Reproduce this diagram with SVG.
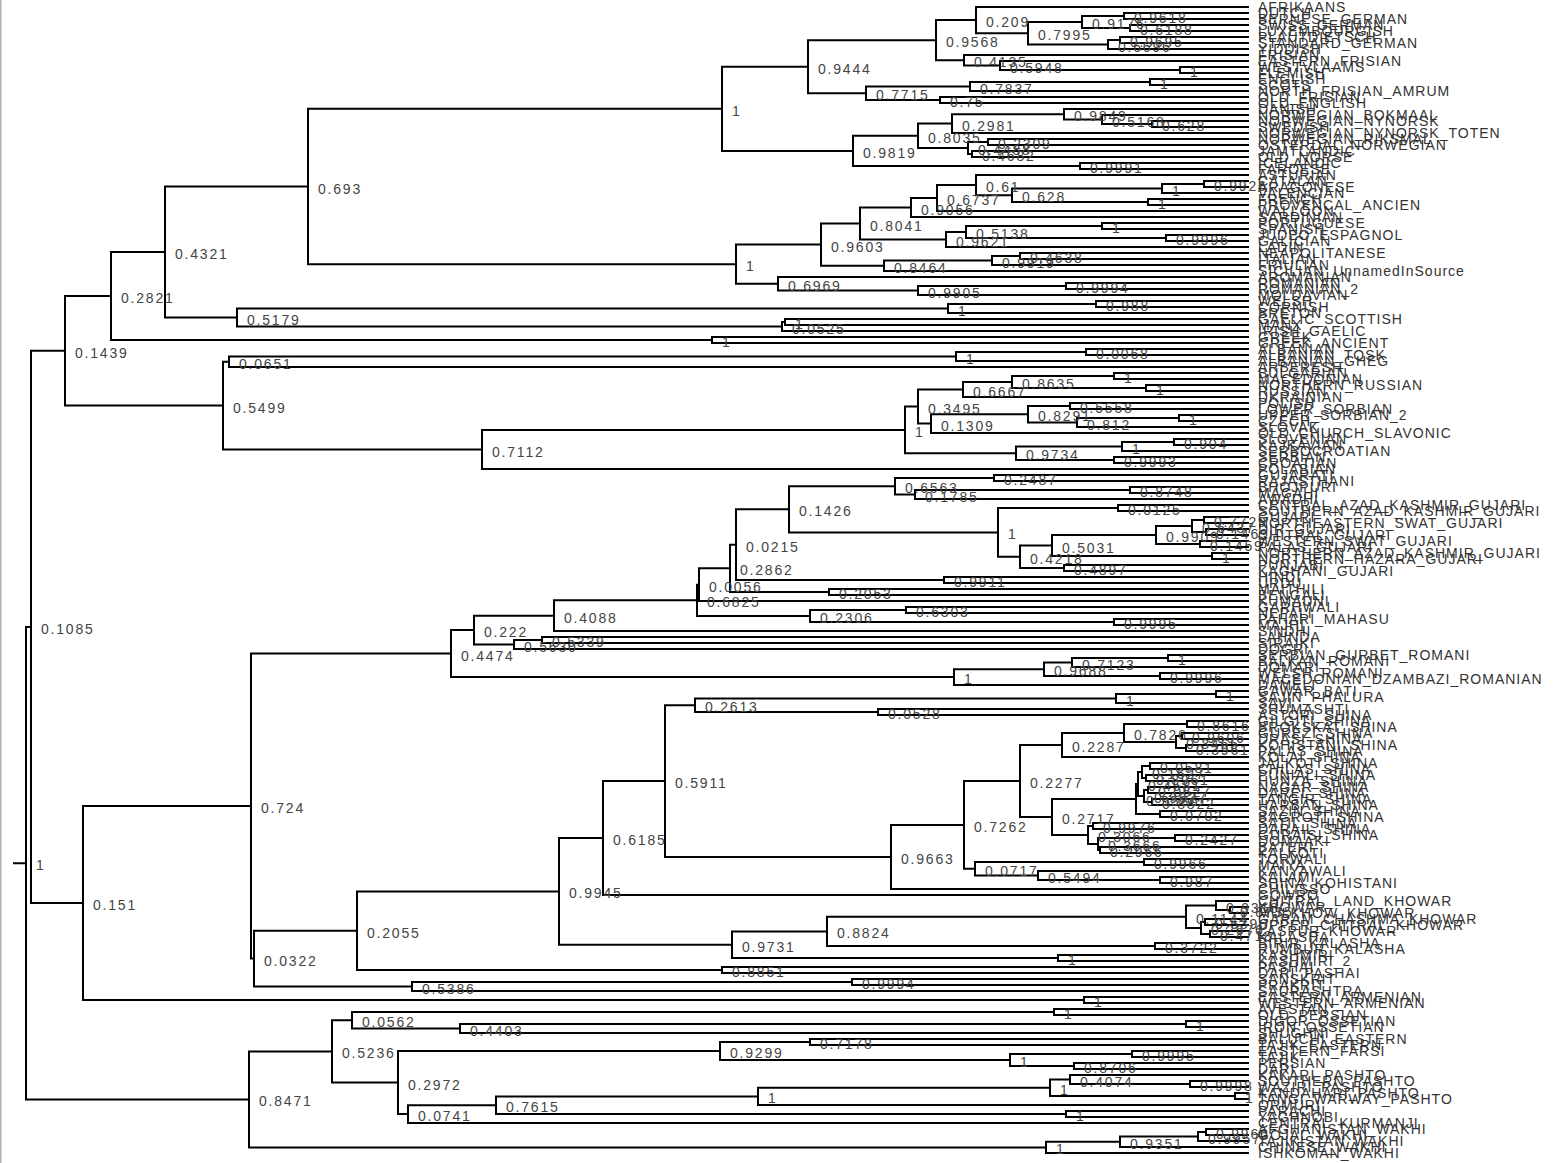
<svg xmlns="http://www.w3.org/2000/svg" width="1566" height="1163" viewBox="0 0 1566 1163">
<style>
.c{fill:none;stroke:#000;stroke-width:2}
.t{font-family:"Liberation Sans",Arial,sans-serif;font-size:14px;letter-spacing:1px;fill:#333}
.n{font-family:"Liberation Sans",Arial,sans-serif;font-size:14px;letter-spacing:1.8px;fill:#444}
</style>
<rect width="1566" height="1163" fill="#fff"/>
<rect x="0" y="0" width="1.5" height="1163" fill="#b0b0b0"/>
<g id="connectors" class="c">
<path d="M13 863.2H26M31 626.9H26V1099.4H249M65 350.8H31V903H83"/>
<path d="M808 66.7H722V150.9H853M936 40.2H808V93.25H866M976 20.1H936V60.25H964M1249 7H976V33.25H1028M1082 22H1028V44.5H1108M1124 16H1082V28H1130M1249 13H1124V19H1249M1249 25H1130V31H1249M1120 40H1108V49H1249M1249 37H1120V43H1249M1249 55H964V65.5H1000M1249 61H1000V70H1180M1249 67H1180V73H1249M970 86.5H866V100H940M1150 82H970V91H1249M1249 79H1150V85H1249M1249 97H940V103H1249M918 135.8H853V166H1080M952 123.6H918V148H968M1064 114.25H952V133H1249M1249 109H1064V119.5H1102M1249 115H1102V124H1152M1249 121H1152V127H1249M988 142H968V154H972M1249 139H988V145H1249M1249 151H972V157H1249M1249 163H1080V169H1249"/>
<path d="M821 244.6H736V283.75H778M722 108.8H308V264.2H736M860 223.5H821V265.75H884M911 207.5H860V239.5H946M937 198.1H911V217H1249M976 185.1H937V211H1249M1249 175H976V195.25H1012M1162 188.5H1012V202H1148M1204 184H1162V193H1249M1249 181H1204V187H1249M1249 199H1148V205H1249M966 232H946V247H1249M1102 226H966V238H1166M1249 223H1102V229H1249M1249 235H1166V241H1249M992 260.5H884V271H1249M1020 256H992V265H1249M1249 253H1020V259H1249M1249 277H778V290.5H918M1066 286H918V295H1249M1249 283H1066V289H1249"/>
<path d="M308 186.5H165V317.5H237M165 252H111V340H712M948 308.5H237V326.5H782M1096 304H948V313H1249M1249 301H1096V307H1249M785 322H782V331H1249M1249 319H785V325H1249M1249 337H712V343H1249"/>
<path d="M111 296H65V405.6H223M229 361.75H223V449.5H482M956 356.5H229V367H1249M1086 352H956V361H1249M1249 349H1086V355H1249M905 429.9H482V469H1249M918 406.6H905V453.25H1016M963 389.5H918V423.6H931M1012 382H963V397H1249M1114 376H1012V388H1146M1249 373H1114V379H1249M1249 385H1146V391H1249M1028 414.25H931V433H1249M1070 406H1028V422.5H1077M1249 403H1070V409H1249M1179 418H1077V427H1249M1249 415H1179V421H1249M1122 446.5H1016V460H1114M1174 442H1122V451H1249M1249 439H1174V445H1249M1249 457H1114V463H1249"/>
<path d="M251 806.1H83V1000H1084M1249 997H1084V1003H1249M451 653.6H251V958.6H254M474 630.1H451V677.1H954M554 615.7H474V644.5H514M697 600.3H554V631H1249M699 584.7H697V616H810M730 568.3H699V601H1249M736 544.7H730V592H829M789 509.3H736V580H944M895 486.25H789V532.4H998M994 478H895V494.5H915M1249 475H994V481H1249M1130 490H915V499H1249M1249 487H1130V493H1249M1118 508H998V556.75H1020M1249 505H1118V511H1249M1052 545.5H1020V568H1064M1156 535H1052V556H1212M1192 526H1156V544H1200M1204 520H1192V532H1206M1249 517H1204V523H1249M1249 529H1206V535H1249M1249 541H1200V547H1249M1249 553H1212V559H1249M1249 565H1064V571H1249M1249 577H944V583H1249M1249 589H829V595H1249M906 610H810V622H1114M1249 607H906V613H1249M1249 619H1114V625H1249M542 640H514V649H1249M1249 637H542V643H1249M1044 669.25H954V685H1249M1072 662.5H1044V676H1160M1168 658H1072V667H1249M1249 655H1168V661H1249M1249 673H1160V679H1249"/>
<path d="M357 930.7H254V986.5H412M559 891.4H357V970H722M603 838H559V944.7H732M665 781.1H603V895H1249M695 705.25H665V857H891M1116 698.5H695V712H878M1216 694H1116V703H1249M1249 691H1216V697H1249M1249 709H878V715H1249M964 824.9H891V889H1249M1020 781H964V868.75H975M1062 745H1020V817H1052M1124 733H1062V757H1249M1187 724H1124V742H1176M1249 721H1187V727H1249M1182 736H1176V748H1186M1249 733H1182V739H1249M1249 745H1186V751H1249M1136 799H1052V835H1088M1138 784H1136V814H1160M1142 772H1138V796H1144M1150 766H1142V778H1146M1249 763H1150V769H1249M1249 775H1146V781H1249M1148 790H1144V802H1152M1249 787H1148V793H1249M1249 799H1152V805H1249M1249 811H1160V817H1249M1093 826H1088V844H1098M1249 823H1093V829H1249M1175 838H1098V850H1100M1249 835H1175V841H1249M1249 847H1100V853H1249M1144 862H975V875.5H1038M1249 859H1144V865H1249M1249 871H1038V880H1160M1249 877H1160V883H1249M827 931.4H732V958H1058M1186 916.75H827V946H1155M1216 905.5H1186V928H1201M1249 901H1216V910H1230M1249 907H1230V913H1249M1205 922H1201V934H1210M1249 919H1205V925H1249M1249 931H1210V937H1249M1249 943H1155V949H1249M1249 955H1058V961H1249M1249 967H722V973H1249M852 982H412V991H1249M1249 979H852V985H1249"/>
<path d="M332 1051.4H249V1147.4H1046M352 1020.25H332V1082.6H398M1054 1012H352V1028.5H460M1249 1009H1054V1015H1249M1186 1024H460V1033H1249M1249 1021H1186V1027H1249M720 1051H398V1114.1H408M810 1042H720V1060H1010M1249 1039H810V1045H1249M1132 1054H1010V1066H1074M1249 1051H1132V1057H1249M1249 1063H1074V1069H1249M496 1105.2H408V1123H1249M758 1096.4H496V1114H1066M1050 1087.75H758V1105H1249M1070 1079.5H1050V1096H1235M1249 1075H1070V1084H1190M1249 1081H1190V1087H1249M1249 1093H1235V1099H1249M1249 1111H1066V1117H1249M1120 1141.75H1046V1153H1249M1198 1136.5H1120V1147H1249M1206 1132H1198V1141H1249M1249 1129H1206V1135H1249"/>
</g>
<g id="internal-nodes" class="n">
<g id="n1"><text x="36" y="870">1</text></g>
<g id="n2"><text x="41" y="634">0.1085</text></g>
<g id="n3"><text x="75" y="358">0.1439</text></g>
<g id="n4"><text x="121" y="303">0.2821</text></g>
<g id="n5"><text x="175" y="259">0.4321</text></g>
<g id="n6"><text x="318" y="193.5">0.693</text></g>
<g id="n7"><text x="732" y="116">1</text></g>
<g id="n8"><text x="818" y="74">0.9444</text></g>
<g id="n9"><text x="946" y="47">0.9568</text></g>
<g id="n10"><text x="986" y="27">0.209</text></g>
<g id="n11"><text x="1038" y="40">0.7995</text></g>
<g id="n12"><text x="1092" y="29">0.9176</text></g>
<g id="n13"><text x="1134" y="23">0.9618</text></g>
<g id="n14"><text x="1140" y="35">0.6188</text></g>
<g id="n15"><text x="1118" y="51.5">0.6696</text></g>
<g id="n16"><text x="1130" y="47">0.9695</text></g>
<g id="n17"><text x="974" y="67">0.4135</text></g>
<g id="n18"><text x="1010" y="72.5">0.5948</text></g>
<g id="n19"><text x="1190" y="77">1</text></g>
<g id="n20"><text x="876" y="100">0.7715</text></g>
<g id="n21"><text x="980" y="93.5">0.7837</text></g>
<g id="n22"><text x="1160" y="89">1</text></g>
<g id="n23"><text x="950" y="107">0.75</text></g>
<g id="n24"><text x="863" y="158">0.9819</text></g>
<g id="n25"><text x="928" y="143">0.8035</text></g>
<g id="n26"><text x="962" y="130.6">0.2981</text></g>
<g id="n27"><text x="1074" y="121">0.9849</text></g>
<g id="n28"><text x="1112" y="126.5">0.5168</text></g>
<g id="n29"><text x="1162" y="131">0.628</text></g>
<g id="n30"><text x="978" y="155">0.4488</text></g>
<g id="n31"><text x="998" y="149">0.2309</text></g>
<g id="n32"><text x="982" y="161">0.4682</text></g>
<g id="n33"><text x="1090" y="173">0.9991</text></g>
<g id="n34"><text x="746" y="271">1</text></g>
<g id="n35"><text x="831" y="251.6">0.9603</text></g>
<g id="n36"><text x="870" y="230.5">0.8041</text></g>
<g id="n37"><text x="921" y="214.5">0.9056</text></g>
<g id="n38"><text x="947" y="205">0.6737</text></g>
<g id="n39"><text x="986" y="192">0.61</text></g>
<g id="n40"><text x="1022" y="202">0.628</text></g>
<g id="n41"><text x="1172" y="195.5">1</text></g>
<g id="n42"><text x="1214" y="191">0.9926</text></g>
<g id="n43"><text x="1158" y="209">1</text></g>
<g id="n44"><text x="956" y="246.5">0.9621</text></g>
<g id="n45"><text x="976" y="239">0.5138</text></g>
<g id="n46"><text x="1112" y="233">1</text></g>
<g id="n47"><text x="1176" y="245">0.9996</text></g>
<g id="n48"><text x="894" y="272.75">0.8464</text></g>
<g id="n49"><text x="1002" y="267.5">0.9919</text></g>
<g id="n50"><text x="1030" y="263">0.4638</text></g>
<g id="n51"><text x="788" y="290.75">0.6969</text></g>
<g id="n52"><text x="928" y="297.5">0.9905</text></g>
<g id="n53"><text x="1076" y="293">0.9994</text></g>
<g id="n54"><text x="247" y="324.5">0.5179</text></g>
<g id="n55"><text x="958" y="315.5">1</text></g>
<g id="n56"><text x="1106" y="311">0.988</text></g>
<g id="n57"><text x="792" y="333.5">0.0525</text></g>
<g id="n58"><text x="795" y="329">1</text></g>
<g id="n59"><text x="722" y="347">1</text></g>
<g id="n60"><text x="233" y="412.6">0.5499</text></g>
<g id="n61"><text x="239" y="368.75">0.0651</text></g>
<g id="n62"><text x="966" y="363.5">1</text></g>
<g id="n63"><text x="1096" y="359">0.0068</text></g>
<g id="n64"><text x="492" y="456.5">0.7112</text></g>
<g id="n65"><text x="915" y="436.9">1</text></g>
<g id="n66"><text x="928" y="413.6">0.3495</text></g>
<g id="n67"><text x="973" y="396.5">0.6667</text></g>
<g id="n68"><text x="1022" y="389">0.8635</text></g>
<g id="n69"><text x="1124" y="383">1</text></g>
<g id="n70"><text x="1156" y="395">1</text></g>
<g id="n71"><text x="941" y="430.6">0.1309</text></g>
<g id="n72"><text x="1038" y="421.25">0.8291</text></g>
<g id="n73"><text x="1080" y="413">0.5558</text></g>
<g id="n74"><text x="1087" y="429.5">0.812</text></g>
<g id="n75"><text x="1189" y="425">1</text></g>
<g id="n76"><text x="1026" y="460.25">0.9734</text></g>
<g id="n77"><text x="1132" y="453.5">1</text></g>
<g id="n78"><text x="1184" y="449">0.904</text></g>
<g id="n79"><text x="1124" y="467">0.9993</text></g>
<g id="n80"><text x="93" y="910">0.151</text></g>
<g id="n81"><text x="1094" y="1007">1</text></g>
<g id="n82"><text x="261" y="813">0.724</text></g>
<g id="n83"><text x="461" y="660.6">0.4474</text></g>
<g id="n84"><text x="484" y="637">0.222</text></g>
<g id="n85"><text x="564" y="622.7">0.4088</text></g>
<g id="n86"><text x="707" y="607.3">0.6825</text></g>
<g id="n87"><text x="709" y="591.7">0.0056</text></g>
<g id="n88"><text x="740" y="575.3">0.2862</text></g>
<g id="n89"><text x="746" y="551.7">0.0215</text></g>
<g id="n90"><text x="799" y="516.3">0.1426</text></g>
<g id="n91"><text x="905" y="493.25">0.6563</text></g>
<g id="n92"><text x="1004" y="485">0.2487</text></g>
<g id="n93"><text x="925" y="501.5">0.1785</text></g>
<g id="n94"><text x="1140" y="497">0.8748</text></g>
<g id="n95"><text x="1008" y="539.4">1</text></g>
<g id="n96"><text x="1128" y="515">0.0125</text></g>
<g id="n97"><text x="1030" y="563.75">0.4218</text></g>
<g id="n98"><text x="1062" y="552.5">0.5031</text></g>
<g id="n99"><text x="1166" y="542">0.9909</text></g>
<g id="n100"><text x="1202" y="533">0.6437</text></g>
<g id="n101"><text x="1214" y="527">0.7729</text></g>
<g id="n102"><text x="1216" y="539">0.1469</text></g>
<g id="n103"><text x="1210" y="551">0.1459</text></g>
<g id="n104"><text x="1222" y="563">1</text></g>
<g id="n105"><text x="1074" y="575">0.4897</text></g>
<g id="n106"><text x="954" y="587">0.9911</text></g>
<g id="n107"><text x="839" y="599">0.2053</text></g>
<g id="n108"><text x="820" y="623">0.2306</text></g>
<g id="n109"><text x="916" y="617">0.6303</text></g>
<g id="n110"><text x="1124" y="629">0.9995</text></g>
<g id="n111"><text x="524" y="651.5">0.5630</text></g>
<g id="n112"><text x="552" y="647">0.5339</text></g>
<g id="n113"><text x="964" y="684.1">1</text></g>
<g id="n114"><text x="1054" y="676.25">0.9688</text></g>
<g id="n115"><text x="1082" y="669.5">0.7123</text></g>
<g id="n116"><text x="1178" y="665">1</text></g>
<g id="n117"><text x="1170" y="683">0.9996</text></g>
<g id="n118"><text x="264" y="965.6">0.0322</text></g>
<g id="n119"><text x="367" y="937.7">0.2055</text></g>
<g id="n120"><text x="569" y="898.4">0.9945</text></g>
<g id="n121"><text x="613" y="845">0.6185</text></g>
<g id="n122"><text x="675" y="788.1">0.5911</text></g>
<g id="n123"><text x="705" y="712.25">0.2613</text></g>
<g id="n124"><text x="1126" y="705.5">1</text></g>
<g id="n125"><text x="1226" y="701">1</text></g>
<g id="n126"><text x="888" y="719">0.0528</text></g>
<g id="n127"><text x="901" y="864">0.9663</text></g>
<g id="n128"><text x="974" y="831.9">0.7262</text></g>
<g id="n129"><text x="1030" y="788">0.2277</text></g>
<g id="n130"><text x="1072" y="752">0.2287</text></g>
<g id="n131"><text x="1134" y="740">0.7826</text></g>
<g id="n132"><text x="1197" y="731">0.8616</text></g>
<g id="n133"><text x="1186" y="749">0.3465</text></g>
<g id="n134"><text x="1192" y="743">0.9606</text></g>
<g id="n135"><text x="1196" y="755">0.3961</text></g>
<g id="n136"><text x="1062" y="824">0.2717</text></g>
<g id="n137"><text x="1146" y="806">0.9586</text></g>
<g id="n138"><text x="1148" y="791">0.4581</text></g>
<g id="n139"><text x="1152" y="779">0.1627</text></g>
<g id="n140"><text x="1160" y="773">0.0581</text></g>
<g id="n141"><text x="1156" y="785">0.8961</text></g>
<g id="n142"><text x="1154" y="803">0.9627</text></g>
<g id="n143"><text x="1158" y="797">0.0627</text></g>
<g id="n144"><text x="1162" y="809">0.8822</text></g>
<g id="n145"><text x="1170" y="821">0.0702</text></g>
<g id="n146"><text x="1098" y="842">0.3066</text></g>
<g id="n147"><text x="1103" y="833">0.9976</text></g>
<g id="n148"><text x="1108" y="851">0.3666</text></g>
<g id="n149"><text x="1185" y="845">0.2427</text></g>
<g id="n150"><text x="1110" y="857">0.2966</text></g>
<g id="n151"><text x="985" y="875.75">0.0717</text></g>
<g id="n152"><text x="1154" y="869">0.9966</text></g>
<g id="n153"><text x="1048" y="882.5">0.5494</text></g>
<g id="n154"><text x="1170" y="887">0.987</text></g>
<g id="n155"><text x="742" y="951.7">0.9731</text></g>
<g id="n156"><text x="837" y="938.4">0.8824</text></g>
<g id="n157"><text x="1196" y="923.75">0.1144</text></g>
<g id="n158"><text x="1226" y="912.5">0.9318</text></g>
<g id="n159"><text x="1240" y="917">0.8735</text></g>
<g id="n160"><text x="1211" y="935">0.2676</text></g>
<g id="n161"><text x="1215" y="929">0.5396</text></g>
<g id="n162"><text x="1220" y="941">0.4718</text></g>
<g id="n163"><text x="1165" y="953">0.3722</text></g>
<g id="n164"><text x="1068" y="965">1</text></g>
<g id="n165"><text x="732" y="977">0.8851</text></g>
<g id="n166"><text x="422" y="993.5">0.5386</text></g>
<g id="n167"><text x="862" y="989">0.9994</text></g>
<g id="n168"><text x="259" y="1106.4">0.8471</text></g>
<g id="n169"><text x="342" y="1058.4">0.5236</text></g>
<g id="n170"><text x="362" y="1027.25">0.0562</text></g>
<g id="n171"><text x="1064" y="1019">1</text></g>
<g id="n172"><text x="470" y="1035.5">0.4403</text></g>
<g id="n173"><text x="1196" y="1031">1</text></g>
<g id="n174"><text x="408" y="1089.6">0.2972</text></g>
<g id="n175"><text x="730" y="1058">0.9299</text></g>
<g id="n176"><text x="820" y="1049">0.7178</text></g>
<g id="n177"><text x="1020" y="1067">1</text></g>
<g id="n178"><text x="1142" y="1061">0.9995</text></g>
<g id="n179"><text x="1084" y="1073">0.8706</text></g>
<g id="n180"><text x="418" y="1121.1">0.0741</text></g>
<g id="n181"><text x="506" y="1112.2">0.7615</text></g>
<g id="n182"><text x="768" y="1103.4">1</text></g>
<g id="n183"><text x="1060" y="1094.75">1</text></g>
<g id="n184"><text x="1080" y="1086.5">0.4074</text></g>
<g id="n185"><text x="1200" y="1091">0.9998</text></g>
<g id="n186"><text x="1245" y="1103">1</text></g>
<g id="n187"><text x="1076" y="1121">1</text></g>
<g id="n188"><text x="1056" y="1154.4">1</text></g>
<g id="n189"><text x="1130" y="1148.75">0.9351</text></g>
<g id="n190"><text x="1208" y="1143.5">0.9957</text></g>
<g id="n191"><text x="1216" y="1139">0.9966</text></g>
</g>
<g id="tips" class="t">
<g id="tip0"><text x="1258" y="12">AFRIKAANS</text></g>
<g id="tip1"><text x="1258" y="18">DUTCH</text></g>
<g id="tip2"><text x="1258" y="24">BERNESE_GERMAN</text></g>
<g id="tip3"><text x="1258" y="30">SWISS_GERMAN</text></g>
<g id="tip4"><text x="1258" y="36">LUXEMBOURGISH</text></g>
<g id="tip5"><text x="1258" y="42">PLAUTDIETSCH</text></g>
<g id="tip6"><text x="1258" y="48">STANDARD_GERMAN</text></g>
<g id="tip7"><text x="1258" y="54">YIDDISH</text></g>
<g id="tip8"><text x="1258" y="60">FRISIAN</text></g>
<g id="tip9"><text x="1258" y="66">EASTERN_FRISIAN</text></g>
<g id="tip10"><text x="1258" y="72">WESTVLAAMS</text></g>
<g id="tip11"><text x="1258" y="78">FLEMISH</text></g>
<g id="tip12"><text x="1258" y="84">ENGLISH</text></g>
<g id="tip13"><text x="1258" y="90">SCOTS</text></g>
<g id="tip14"><text x="1258" y="96">NORTH_FRISIAN_AMRUM</text></g>
<g id="tip15"><text x="1258" y="102">OLD_FRISIAN</text></g>
<g id="tip16"><text x="1258" y="108">OLD_ENGLISH</text></g>
<g id="tip17"><text x="1258" y="114">DANISH</text></g>
<g id="tip18"><text x="1258" y="120">NORWEGIAN_BOKMAAL</text></g>
<g id="tip19"><text x="1258" y="126">NORWEGIAN_NYNORSK</text></g>
<g id="tip20"><text x="1258" y="132">SWEDISH</text></g>
<g id="tip21"><text x="1258" y="138">NORWEGIAN_NYNORSK_TOTEN</text></g>
<g id="tip22"><text x="1258" y="144">NORWEGIAN_RIKSMAL</text></g>
<g id="tip23"><text x="1258" y="150">OSTERDAL_NORWEGIAN</text></g>
<g id="tip24"><text x="1258" y="156">JAMTLANDIC</text></g>
<g id="tip25"><text x="1258" y="162">OLD_NORSE</text></g>
<g id="tip26"><text x="1258" y="168">ICELANDIC</text></g>
<g id="tip27"><text x="1258" y="174">FAROESE</text></g>
<g id="tip28"><text x="1258" y="180">ASTURIAN</text></g>
<g id="tip29"><text x="1258" y="186">CATALAN</text></g>
<g id="tip30"><text x="1258" y="192">ARAGONESE</text></g>
<g id="tip31"><text x="1258" y="198">VALENCIAN</text></g>
<g id="tip32"><text x="1258" y="204">FRENCH</text></g>
<g id="tip33"><text x="1258" y="210">PROVENCAL_ANCIEN</text></g>
<g id="tip34"><text x="1258" y="216">WALLOON</text></g>
<g id="tip35"><text x="1258" y="222">SARDINIAN</text></g>
<g id="tip36"><text x="1258" y="228">PORTUGUESE</text></g>
<g id="tip37"><text x="1258" y="234">SPANISH</text></g>
<g id="tip38"><text x="1258" y="240">JUDEO_ESPAGNOL</text></g>
<g id="tip39"><text x="1258" y="246">GALICIAN</text></g>
<g id="tip40"><text x="1258" y="252">LADIN</text></g>
<g id="tip41"><text x="1258" y="258">NEAPOLITANESE</text></g>
<g id="tip42"><text x="1258" y="264">ITALIAN</text></g>
<g id="tip43"><text x="1258" y="270">FRIULIAN</text></g>
<g id="tip44"><text x="1258" y="276">SICILIAN_UnnamedInSource</text></g>
<g id="tip45"><text x="1258" y="282">AROMANIAN</text></g>
<g id="tip46"><text x="1258" y="288">ROMANIAN</text></g>
<g id="tip47"><text x="1258" y="294">ROMANIAN_2</text></g>
<g id="tip48"><text x="1258" y="300">MOLDAVIAN</text></g>
<g id="tip49"><text x="1258" y="306">WELSH</text></g>
<g id="tip50"><text x="1258" y="312">CORNISH</text></g>
<g id="tip51"><text x="1258" y="318">BRETON</text></g>
<g id="tip52"><text x="1258" y="324">GAELIC_SCOTTISH</text></g>
<g id="tip53"><text x="1258" y="330">MANX</text></g>
<g id="tip54"><text x="1258" y="336">IRISH_GAELIC</text></g>
<g id="tip55"><text x="1258" y="342">GREEK</text></g>
<g id="tip56"><text x="1258" y="348">GREEK_ANCIENT</text></g>
<g id="tip57"><text x="1258" y="354">ALBANIAN</text></g>
<g id="tip58"><text x="1258" y="360">ALBANIAN_TOSK</text></g>
<g id="tip59"><text x="1258" y="366">ALBANIAN_GHEG</text></g>
<g id="tip60"><text x="1258" y="372">ARBERESH</text></g>
<g id="tip61"><text x="1258" y="378">BULGARIAN</text></g>
<g id="tip62"><text x="1258" y="384">MACEDONIAN</text></g>
<g id="tip63"><text x="1258" y="390">NORTHERN_RUSSIAN</text></g>
<g id="tip64"><text x="1258" y="396">RUSSIAN</text></g>
<g id="tip65"><text x="1258" y="402">UKRAINIAN</text></g>
<g id="tip66"><text x="1258" y="408">POLISH</text></g>
<g id="tip67"><text x="1258" y="414">LOWER_SORBIAN</text></g>
<g id="tip68"><text x="1258" y="420">UPPER_SORBIAN_2</text></g>
<g id="tip69"><text x="1258" y="426">CZECH</text></g>
<g id="tip70"><text x="1258" y="432">SLOVAK</text></g>
<g id="tip71"><text x="1258" y="438">OLD_CHURCH_SLAVONIC</text></g>
<g id="tip72"><text x="1258" y="444">SLOVENIAN</text></g>
<g id="tip73"><text x="1258" y="450">KAJKAVIAN</text></g>
<g id="tip74"><text x="1258" y="456">SERBOCROATIAN</text></g>
<g id="tip75"><text x="1258" y="462">SERBIAN</text></g>
<g id="tip76"><text x="1258" y="468">CROATIAN</text></g>
<g id="tip77"><text x="1258" y="474">POLABIAN</text></g>
<g id="tip78"><text x="1258" y="480">GUJARATI</text></g>
<g id="tip79"><text x="1258" y="486">RAJASTHANI</text></g>
<g id="tip80"><text x="1258" y="492">BHOJPURI</text></g>
<g id="tip81"><text x="1258" y="498">MAGAHI</text></g>
<g id="tip82"><text x="1258" y="504">AWADHI</text></g>
<g id="tip83"><text x="1258" y="510">CENTRAL_AZAD_KASHMIR_GUJARI</text></g>
<g id="tip84"><text x="1258" y="516">SOUTHERN_AZAD_KASHMIR_GUJARI</text></g>
<g id="tip85"><text x="1258" y="522">GUJARI</text></g>
<g id="tip86"><text x="1258" y="528">NORTHEASTERN_SWAT_GUJARI</text></g>
<g id="tip87"><text x="1258" y="534">DIR_GUJARI</text></g>
<g id="tip88"><text x="1258" y="540">CHITRAL_GUJARI</text></g>
<g id="tip89"><text x="1258" y="546">WESTERN_SWAT_GUJARI</text></g>
<g id="tip90"><text x="1258" y="552">PALAS_GUJARI</text></g>
<g id="tip91"><text x="1258" y="558">NORTHERN_AZAD_KASHMIR_GUJARI</text></g>
<g id="tip92"><text x="1258" y="564">NORTHERN_HAZARA_GUJARI</text></g>
<g id="tip93"><text x="1258" y="570">PUNJABI</text></g>
<g id="tip94"><text x="1258" y="576">KAGHANI_GUJARI</text></g>
<g id="tip95"><text x="1258" y="582">HINDI</text></g>
<g id="tip96"><text x="1258" y="588">URDU</text></g>
<g id="tip97"><text x="1258" y="594">MAITHILI</text></g>
<g id="tip98"><text x="1258" y="600">BENGALI</text></g>
<g id="tip99"><text x="1258" y="606">KUMAUNI</text></g>
<g id="tip100"><text x="1258" y="612">GARHWALI</text></g>
<g id="tip101"><text x="1258" y="618">NEPALI</text></g>
<g id="tip102"><text x="1258" y="624">PAHARI_MAHASU</text></g>
<g id="tip103"><text x="1258" y="630">MAJHI</text></g>
<g id="tip104"><text x="1258" y="636">SINDHI</text></g>
<g id="tip105"><text x="1258" y="642">LAHNDA</text></g>
<g id="tip106"><text x="1258" y="648">SIRAIKI</text></g>
<g id="tip107"><text x="1258" y="654">DOGRI</text></g>
<g id="tip108"><text x="1258" y="660">SERBIAN_GURBET_ROMANI</text></g>
<g id="tip109"><text x="1258" y="666">BALKAN_ROMANI</text></g>
<g id="tip110"><text x="1258" y="672">DOMARI</text></g>
<g id="tip111"><text x="1258" y="678">WELSH_ROMANI</text></g>
<g id="tip112"><text x="1258" y="684">MACEDONIAN_DZAMBAZI_ROMANIAN</text></g>
<g id="tip113"><text x="1258" y="690">DAMELI</text></g>
<g id="tip114"><text x="1258" y="696">GAWAR_BATI</text></g>
<g id="tip115"><text x="1258" y="702">SAJIN_PHALURA</text></g>
<g id="tip116"><text x="1258" y="708">SAVI</text></g>
<g id="tip117"><text x="1258" y="714">SHUMASHTI</text></g>
<g id="tip118"><text x="1258" y="720">ASTORI_SHINA</text></g>
<g id="tip119"><text x="1258" y="726">GILGITI_SHINA</text></g>
<g id="tip120"><text x="1258" y="732">BROKSKAT_SHINA</text></g>
<g id="tip121"><text x="1258" y="738">GUREZI_SHINA</text></g>
<g id="tip122"><text x="1258" y="744">DRASI_SHINA</text></g>
<g id="tip123"><text x="1258" y="750">KOHISTANI_SHINA</text></g>
<g id="tip124"><text x="1258" y="756">PALAS_SHINA</text></g>
<g id="tip125"><text x="1258" y="762">KOLAI_SHINA</text></g>
<g id="tip126"><text x="1258" y="768">JALKOTI_SHINA</text></g>
<g id="tip127"><text x="1258" y="774">CHILAS_SHINA</text></g>
<g id="tip128"><text x="1258" y="780">PUNIALI_SHINA</text></g>
<g id="tip129"><text x="1258" y="786">HUNZA_SHINA</text></g>
<g id="tip130"><text x="1258" y="792">NAGAR_SHINA</text></g>
<g id="tip131"><text x="1258" y="798">DAREL_SHINA</text></g>
<g id="tip132"><text x="1258" y="804">TANGIR_SHINA</text></g>
<g id="tip133"><text x="1258" y="810">HARBAN_SHINA</text></g>
<g id="tip134"><text x="1258" y="816">SAZIN_SHINA</text></g>
<g id="tip135"><text x="1258" y="822">BAGROTI_SHINA</text></g>
<g id="tip136"><text x="1258" y="828">SATIL_SHINA</text></g>
<g id="tip137"><text x="1258" y="834">DARAIL_SHINA</text></g>
<g id="tip138"><text x="1258" y="840">GURAISI_SHINA</text></g>
<g id="tip139"><text x="1258" y="846">DOMAAKI</text></g>
<g id="tip140"><text x="1258" y="852">BATERI</text></g>
<g id="tip141"><text x="1258" y="858">KALKOTI</text></g>
<g id="tip142"><text x="1258" y="864">TORWALI</text></g>
<g id="tip143"><text x="1258" y="870">MAIYA</text></g>
<g id="tip144"><text x="1258" y="876">KANYAWALI</text></g>
<g id="tip145"><text x="1258" y="882">KALAMI</text></g>
<g id="tip146"><text x="1258" y="888">SHINA_KOHISTANI</text></g>
<g id="tip147"><text x="1258" y="894">CHILISSO</text></g>
<g id="tip148"><text x="1258" y="900">GOWRO</text></g>
<g id="tip149"><text x="1258" y="906">CHITRAL_LAND_KHOWAR</text></g>
<g id="tip150"><text x="1258" y="912">KHOWAR</text></g>
<g id="tip151"><text x="1258" y="918">MULKHOW_KHOWAR</text></g>
<g id="tip152"><text x="1258" y="924">GARAM_CHASHMA_KHOWAR</text></g>
<g id="tip153"><text x="1258" y="930">UPPER_CHITRAL_KHOWAR</text></g>
<g id="tip154"><text x="1258" y="936">LASPUR_KHOWAR</text></g>
<g id="tip155"><text x="1258" y="942">KALASHA</text></g>
<g id="tip156"><text x="1258" y="948">BIRIR_KALASHA</text></g>
<g id="tip157"><text x="1258" y="954">RUMBUR_KALASHA</text></g>
<g id="tip158"><text x="1258" y="960">KASHMIRI</text></g>
<g id="tip159"><text x="1258" y="966">KASHMIRI_2</text></g>
<g id="tip160"><text x="1258" y="972">PASHAI</text></g>
<g id="tip161"><text x="1258" y="978">DARI_PASHAI</text></g>
<g id="tip162"><text x="1258" y="984">SANSKRIT</text></g>
<g id="tip163"><text x="1258" y="990">PRAKRIT</text></g>
<g id="tip164"><text x="1258" y="996">SAURASHTRA</text></g>
<g id="tip165"><text x="1258" y="1002">EASTERN_ARMENIAN</text></g>
<g id="tip166"><text x="1258" y="1008">WESTERN_ARMENIAN</text></g>
<g id="tip167"><text x="1258" y="1014">AVESTAN</text></g>
<g id="tip168"><text x="1258" y="1020">OLD_PERSIAN</text></g>
<g id="tip169"><text x="1258" y="1026">DIGOR_OSSETIAN</text></g>
<g id="tip170"><text x="1258" y="1032">IRON_OSSETIAN</text></g>
<g id="tip171"><text x="1258" y="1038">SHUGHNI</text></g>
<g id="tip172"><text x="1258" y="1044">BALUCHI_EASTERN</text></g>
<g id="tip173"><text x="1258" y="1050">TAJIK_EASTERN</text></g>
<g id="tip174"><text x="1258" y="1056">EASTERN_FARSI</text></g>
<g id="tip175"><text x="1258" y="1062">TAJIK</text></g>
<g id="tip176"><text x="1258" y="1068">PERSIAN</text></g>
<g id="tip177"><text x="1258" y="1074">DARI</text></g>
<g id="tip178"><text x="1258" y="1080">KAKARI_PASHTO</text></g>
<g id="tip179"><text x="1258" y="1086">SOUTHERN_PASHTO</text></g>
<g id="tip180"><text x="1258" y="1092">WAZIRI_PASHTO</text></g>
<g id="tip181"><text x="1258" y="1098">KANDAHARI_PASHTO</text></g>
<g id="tip182"><text x="1258" y="1104">TANGI_WARWAY_PASHTO</text></g>
<g id="tip183"><text x="1258" y="1110">ORMURI</text></g>
<g id="tip184"><text x="1258" y="1116">PARACHI</text></g>
<g id="tip185"><text x="1258" y="1122">YAGHNOBI</text></g>
<g id="tip186"><text x="1258" y="1128">CENTRAL_KURMANJI</text></g>
<g id="tip187"><text x="1258" y="1134">AFGHANISTAN_WAKHI</text></g>
<g id="tip188"><text x="1258" y="1140">GOJAL_WAKHI</text></g>
<g id="tip189"><text x="1258" y="1146">TAJIKISTAN_WAKHI</text></g>
<g id="tip190"><text x="1258" y="1152">CHINESE_WAKHI</text></g>
<g id="tip191"><text x="1258" y="1158">ISHKOMAN_WAKHI</text></g>
</g>
</svg>
